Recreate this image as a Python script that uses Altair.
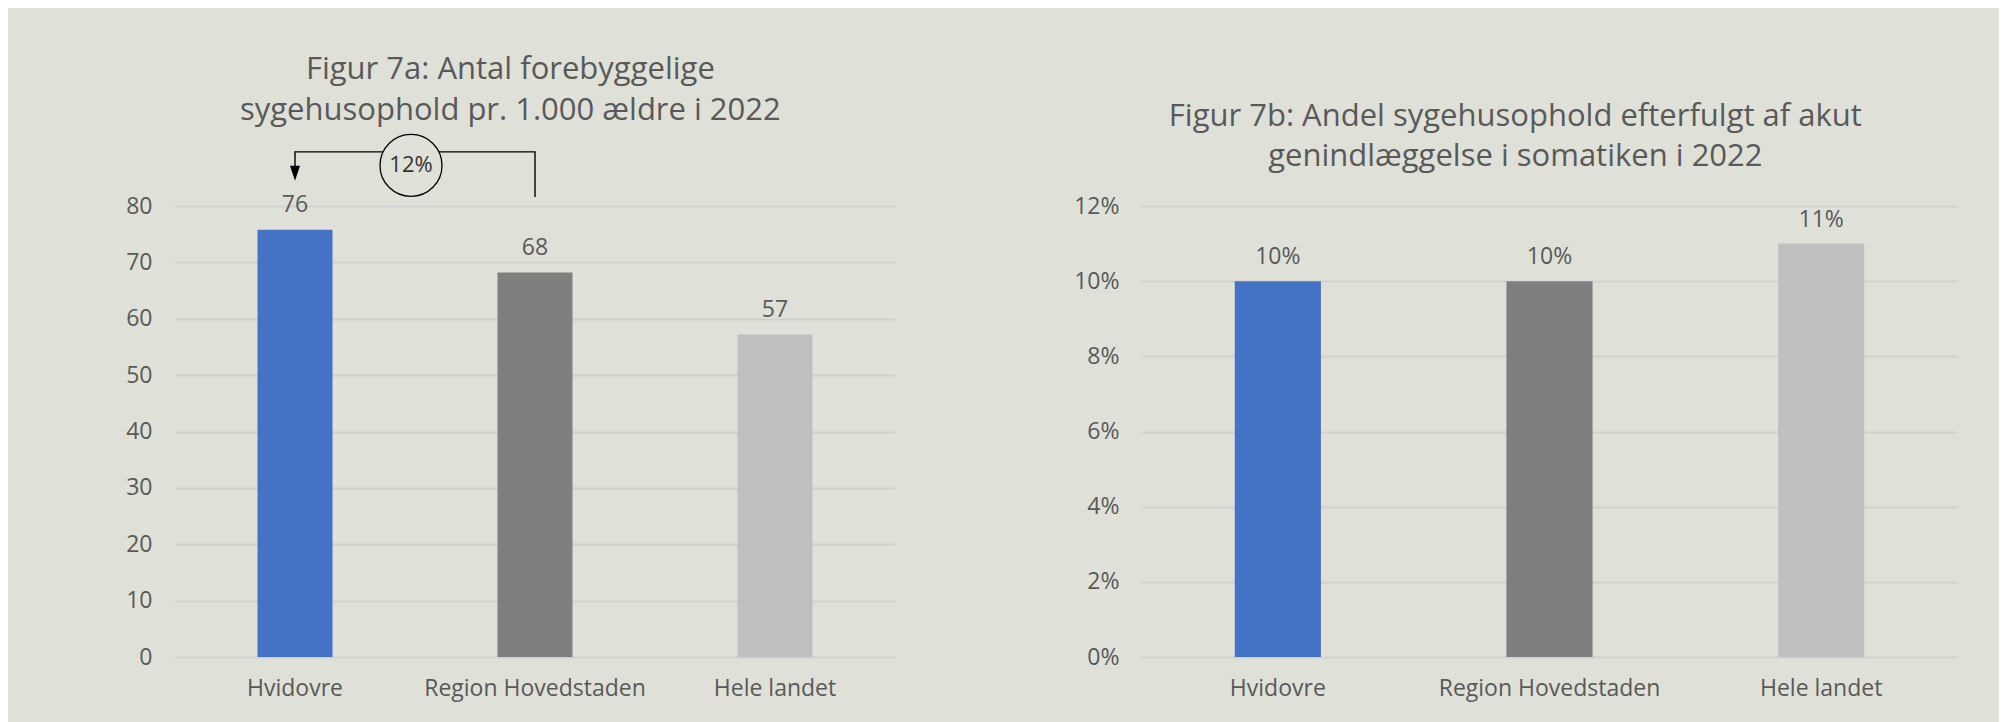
import altair as alt
import pandas as pd

# ---- data ----
categories = ["Hvidovre", "Region Hovedstaden", "Hele landet"]
values_7a = [75.8, 68.2, 57.2]
values_7b = [0.10, 0.10, 0.11]
bar_colors = ["#4472c4", "#7f7f7f", "#bfbfbf"]

title_7a = ["Figur 7a: Antal forebyggelige", "sygehusophold pr. 1.000 ældre i 2022"]
title_7b = ["Figur 7b: Andel sygehusophold efterfulgt af akut", "genindlæggelse i somatiken i 2022"]
ticks_7a = [0, 10, 20, 30, 40, 50, 60, 70, 80]
ticks_7b = [0, 0.02, 0.04, 0.06, 0.08, 0.10, 0.12]

# annotation (bracket from Region Hovedstaden to Hvidovre, 12 %)
bracket_cat = ["Hvidovre", "Hvidovre", "Region Hovedstaden", "Region Hovedstaden"]
bracket_val = [86.0, 89.6, 89.6, 81.6]
bracket_ord = [0, 1, 2, 3]
arrow_cat = ["Hvidovre"]
arrow_val = [85.8]
circle_cat = ["Hvidovre"]
circle_val = [87.2]
circle_text = ["12%"]

BG = "#dfe1d8"
TXT = "#595959"
FONT = "Open Sans"
GRID = "#d2cfcf"

df_a = pd.DataFrame({"cat": categories, "val": values_7a})
df_b = pd.DataFrame({"cat": categories, "val": values_7b})
df_br = pd.DataFrame({"cat": bracket_cat, "val": bracket_val, "o": bracket_ord})
df_ar = pd.DataFrame({"cat": arrow_cat, "val": arrow_val})
df_ci = pd.DataFrame({"cat": circle_cat, "val": circle_val, "t": circle_text})

color_enc = alt.Color("cat:N", scale=alt.Scale(domain=categories, range=bar_colors), legend=None)


def x_enc(pi, po):
    return alt.X(
        "cat:N", sort=categories,
        scale=alt.Scale(paddingInner=pi, paddingOuter=po),
        axis=alt.Axis(title="", labelAngle=0, labelPadding=20, domain=False,
                      ticks=False, grid=False, labelFont=FONT, labelFontSize=23,
                      labelColor=TXT, labelLimit=0),
    )


def y_enc(domain, values, fmt):
    return alt.Y(
        "val:Q", scale=alt.Scale(domain=domain, nice=False, zero=True),
        axis=alt.Axis(title="", values=values, format=fmt, labelPadding=23,
                      grid=True, gridColor=GRID, gridWidth=2, domain=False,
                      ticks=False, labelFont=FONT, labelFontSize=23, labelColor=TXT),
    )


def title_params(text, offset):
    return alt.TitleParams(text=text, font=FONT, fontSize=31, fontWeight="normal", color=TXT,
                           lineHeight=40.5, anchor="middle", frame="bounds", offset=offset)


# ---- Figure 7a ----
xa = x_enc(0.6875, 0.34375)
ya = y_enc([0, 80], ticks_7a, "d")

bars_a = alt.Chart(df_a).mark_bar().encode(x=xa, y=ya, color=color_enc)
lab_a = alt.Chart(df_a).mark_text(font=FONT, fontSize=23, color=TXT, baseline="alphabetic", dy=-18).encode(
    x=xa, y=ya, text=alt.Text("val:Q", format=".0f"))
bracket = alt.Chart(df_br).mark_line(color="black", strokeWidth=1.4).encode(
    x=xa, y=ya, order="o:Q")
arrow = alt.Chart(df_ar).mark_point(shape="M-0.667,-1L0.667,-1L0,1Z", size=225, filled=True,
                                    color="black", opacity=1).encode(x=xa, y=ya)
circle = alt.Chart(df_ci).mark_point(shape="circle", size=3844, filled=False, fill=BG, fillOpacity=1,
                                     stroke="black", strokeWidth=1.3, opacity=1, xOffset=116).encode(x=xa, y=ya)
circ_txt = alt.Chart(df_ci).mark_text(font=FONT, fontSize=22, color="#333333", baseline="middle",
                                      xOffset=116).encode(x=xa, y=ya, text="t:N")

left = alt.layer(bars_a, lab_a, bracket, arrow, circle, circ_txt).properties(
    width=720, height=451, title=title_params(title_7a, 5))

# ---- Figure 7b ----
xb = x_enc(0.683, 0.3415)
yb = y_enc([0, 0.12], ticks_7b, ".0%")
bars_b = alt.Chart(df_b).mark_bar().encode(x=xb, y=yb, color=color_enc)
lab_b = alt.Chart(df_b).mark_text(font=FONT, fontSize=23, color=TXT, baseline="alphabetic", dy=-17).encode(
    x=xb, y=yb, text=alt.Text("val:Q", format=".0%"))

right = alt.layer(bars_b, lab_b).properties(
    width=815, height=451, title=title_params(title_7b, 22))

chart = alt.hconcat(left, right, spacing=177).properties(
    padding={"left": 117, "top": 45, "right": 41, "bottom": 28},
    background=BG,
).configure_view(stroke="transparent")

chart.save("out.html", embed_options={"renderer": "svg", "actions": False})
